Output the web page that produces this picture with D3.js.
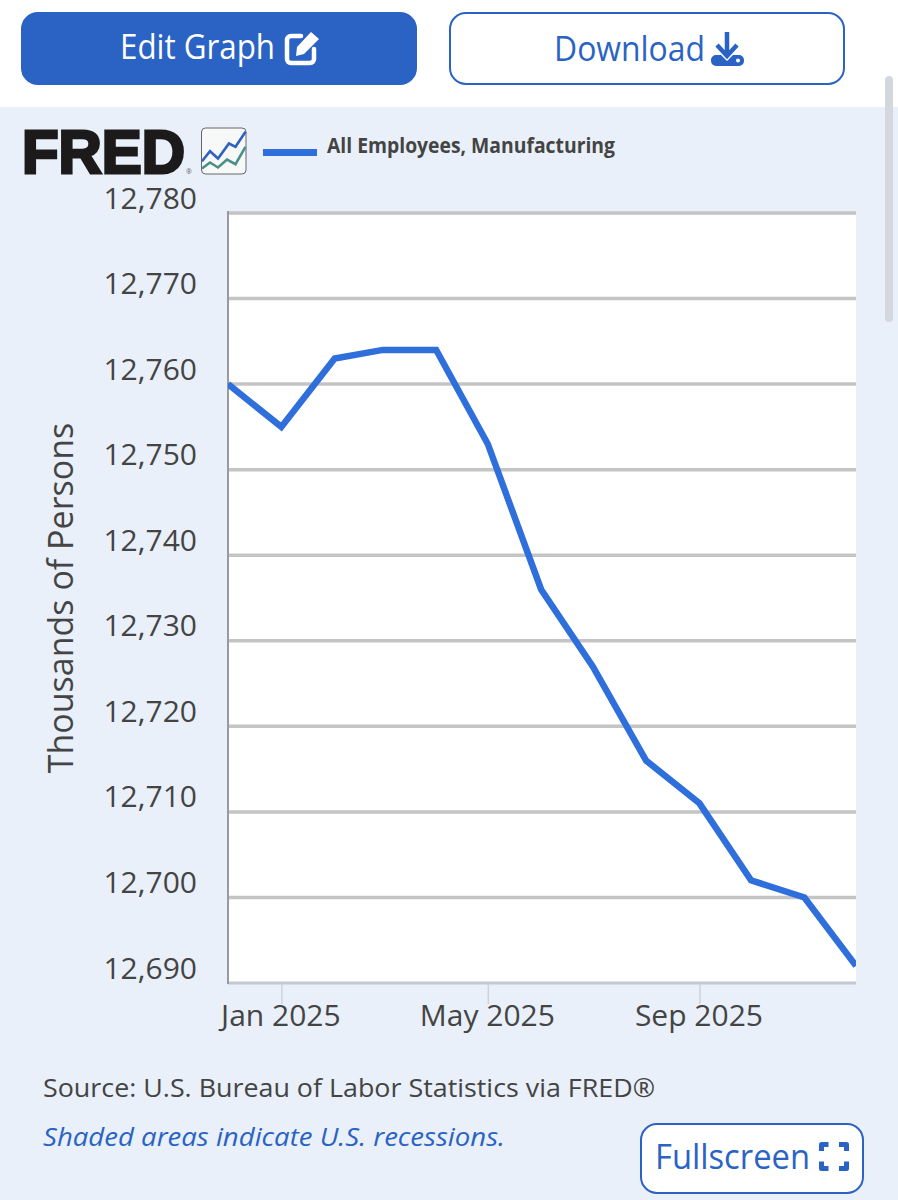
<!DOCTYPE html>
<html>
<head>
<meta charset="utf-8">
<script src="https://cdnjs.cloudflare.com/ajax/libs/d3/7.8.5/d3.min.js"></script>
<style>
  html, body { margin: 0; padding: 0; background: #fff; }
  svg { display: block; }
  text { font-family: "Open Sans", sans-serif; }
</style>
</head>
<body>
<svg id="chart" width="898" height="1200"></svg>
<script>
// monthly values
let months = ['2024-12', '2025-01', '2025-02', '2025-03', '2025-04', '2025-05', '2025-06', '2025-07', '2025-08', '2025-09', '2025-10', '2025-11', '2025-12']
let employees = [12760, 12755, 12763, 12764, 12764, 12753, 12736, 12727, 12716, 12711, 12702, 12700, 12692]
let yTicks = [12690, 12700, 12710, 12720, 12730, 12740, 12750, 12760, 12770, 12780]
let xTicks = ['2025-01', '2025-05', '2025-09']
let seriesName = 'All Employees, Manufacturing'

let parseMonth = d3.timeParse('%Y-%m')
let blue = '#2f6fdb'
let linkBlue = '#2a63c4'
let textGrey = '#444'

let svg = d3.select('#chart')

// page background
svg.append('rect').attr('x', 0).attr('y', 107).attr('width', 898).attr('height', 1093).attr('fill', '#e9f0f9')
svg.append('rect').attr('x', 885).attr('y', 76).attr('width', 8).attr('height', 246).attr('rx', 4).attr('fill', '#d4d8de')

// buttons
function button(x, y, w, h, r, fill, stroke) {
  svg.append('rect').attr('x', x).attr('y', y).attr('width', w).attr('height', h).attr('rx', r)
    .attr('fill', fill).attr('stroke', stroke).attr('stroke-width', 2)
}
function label(x, y, txt, size, fill, anchor, len) {
  let t = svg.append('text').attr('x', x).attr('y', y).text(txt)
    .attr('font-size', size).attr('fill', fill).attr('text-anchor', anchor || 'start')
  if (len) t.attr('textLength', len).attr('lengthAdjust', 'spacingAndGlyphs')
  return t
}
button(22, 13, 394, 71, 16, linkBlue, linkBlue)
label(120, 59, 'Edit Graph', 34, '#fff', 'start', 155)
// pen icon
svg.append('path').attr('d', 'M301 36H291a4 4 0 0 0-4 4v19a4 4 0 0 0 4 4h19a4 4 0 0 0 4-4V49')
  .attr('fill', 'none').attr('stroke', '#fff').attr('stroke-width', 4.5).attr('stroke-linecap', 'round')
svg.append('path').attr('d', 'M297 47L311 32l8 7-15 15-8 2z').attr('fill', '#fff')

button(450, 13, 394, 71, 16, '#fff', linkBlue)
label(554, 61, 'Download', 34, linkBlue, 'start', 151)
// download icon
let dl = svg.append('g')
dl.append('path').attr('d', 'M716 55h5l6 6 6-6h6a5 5 0 0 1 5 5v1a5 5 0 0 1-5 5H716a5 5 0 0 1-5-5v-1a5 5 0 0 1 5-5z').attr('fill', linkBlue)
dl.append('circle').attr('cx', 738).attr('cy', 60.5).attr('r', 2).attr('fill', '#fff')
dl.append('path').attr('d', 'M727 32V56 M717 45L727 56L737 45').attr('fill', 'none').attr('stroke', linkBlue).attr('stroke-width', 4.5)

// FRED logo and legend
label(22, 173, 'FRED', 62, '#1c1a1a', 'start', 163)
  .style('font-family', '"Liberation Sans", sans-serif').attr('font-weight', 700)
  .attr('stroke', '#1c1a1a').attr('stroke-width', 3)
label(186, 174, '®', 7, '#666')
let logo = svg.append('g').attr('transform', 'translate(201,127.5)')
logo.append('rect').attr('x', 0.5).attr('y', 0.5).attr('width', 44.5).attr('height', 46).attr('rx', 4)
  .attr('fill', '#f7f9f8').attr('stroke', '#666').attr('stroke-width', 1)
logo.append('path').attr('d', 'M1 33.7L9 23.7l8 7.3 11-15 6.5 3.3L44.5 4.3').attr('fill', 'none').attr('stroke', '#2f62c0').attr('stroke-width', 2.6)
logo.append('path').attr('d', 'M1 41L9 35l8 5 9-8 8.5 4.7L44.5 19.3').attr('fill', 'none').attr('stroke', '#4b9088').attr('stroke-width', 2.6)
svg.append('rect').attr('x', 263).attr('y', 149).attr('width', 54).attr('height', 7).attr('fill', blue)
label(327, 153, seriesName, 22, textGrey, 'start', 288).attr('font-weight', 700)

// plot
let plotLeft = 228, plotRight = 856, plotTop = 213, plotBottom = 983
let x = d3.scaleTime().domain([parseMonth(months[0]), parseMonth(months[months.length - 1])]).range([plotLeft, plotRight])
let y = d3.scaleLinear().domain([12690, 12780]).range([plotBottom, plotTop])

svg.append('rect').attr('x', plotLeft).attr('y', plotTop).attr('width', plotRight - plotLeft).attr('height', plotBottom - plotTop).attr('fill', '#fff')

svg.selectAll('.grid').data(yTicks.slice(1)).enter().append('line').attr('class', 'grid')
  .attr('x1', plotLeft).attr('x2', plotRight)
  .attr('y1', d => y(d)).attr('y2', d => y(d))
  .attr('stroke', '#c4c4c4').attr('stroke-width', 3.5)

// axis lines
svg.append('line').attr('x1', plotLeft).attr('x2', plotRight).attr('y1', plotBottom).attr('y2', plotBottom).attr('stroke', '#c4c8d2').attr('stroke-width', 3)
svg.append('line').attr('x1', plotLeft).attr('x2', plotLeft).attr('y1', plotTop - 2).attr('y2', plotBottom + 1).attr('stroke', '#9a9a9a').attr('stroke-width', 2)

// x ticks
let xs = xTicks.map(parseMonth)
let xAxis = d3.axisBottom(x).tickValues(xs).tickFormat(d3.timeFormat('%b %Y')).tickSize(20).tickSizeOuter(0).tickPadding(0)
let gx = svg.append('g').attr('transform', `translate(0,${plotBottom + 1})`).call(xAxis)
gx.select('.domain').remove()
gx.selectAll('line').attr('stroke', '#ccd3de').attr('stroke-width', 1.5)
gx.selectAll('text').attr('font-size', 30).attr('fill', textGrey).attr('y', 0).attr('dy', 42)
  .attr('dx', -1).style('font-family', '"Open Sans", sans-serif')

// y labels
let yAxis = d3.axisLeft(y).tickValues(yTicks).tickFormat(d3.format(',')).tickSize(0).tickPadding(31)
let gy = svg.append('g').attr('transform', `translate(${plotLeft},0)`).call(yAxis)
gy.select('.domain').remove()
gy.selectAll('text').attr('font-size', 30).attr('fill', textGrey).attr('dy', null)
  .style('font-family', '"Open Sans", sans-serif')
  .attr('y', -5)

label(0, 0, 'Thousands of Persons', 34, textGrey, 'middle')
  .attr('transform', 'translate(73,598) rotate(-90)')

// series line
let line = d3.line().x(d => x(parseMonth(d.month))).y(d => y(d.value))
svg.append('clipPath').attr('id', 'plotClip').append('rect')
  .attr('x', plotLeft).attr('y', plotTop).attr('width', plotRight - plotLeft).attr('height', plotBottom - plotTop)
svg.append('path').datum(months.map((m, i) => ({month: m, value: employees[i]})))
  .attr('d', line).attr('fill', 'none').attr('stroke', blue).attr('stroke-width', 6.5)
  .attr('stroke-linejoin', 'miter').attr('clip-path', 'url(#plotClip)')

// footer
label(43, 1097, 'Source: U.S. Bureau of Labor Statistics via FRED®', 26, textGrey, 'start', 612)
label(43, 1146, 'Shaded areas indicate U.S. recessions.', 26, linkBlue, 'start', 462).attr('font-style', 'italic')
button(641, 1124, 222, 69, 16, '#fff', linkBlue)
label(655, 1169, 'Fullscreen', 34, linkBlue, 'start', 155)
svg.append('path').attr('d', 'M821.5 1151v-6.5h7 M839 1144.5h7.5v6.5 M846.5 1161.5v7h-7.5 M828.5 1168.5h-7v-7')
  .attr('fill', 'none').attr('stroke', linkBlue).attr('stroke-width', 5).attr('stroke-linejoin', 'round')
</script>
</body>
</html>
